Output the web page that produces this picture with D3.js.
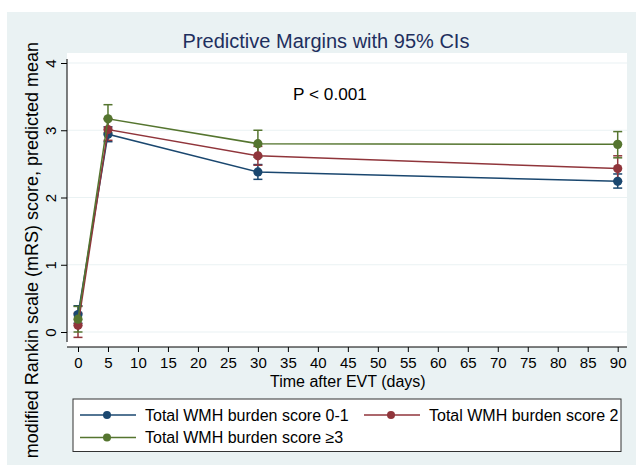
<!DOCTYPE html>
<html>
<head>
<meta charset="utf-8">
<script src="https://cdn.jsdelivr.net/npm/d3@7"></script>
<style>
  html, body { margin: 0; padding: 0; background: #ffffff; }
  svg { display: block; font-family: "Liberation Sans", Arial, Helvetica, sans-serif; }
</style>
</head>
<body>
<svg id="chart" width="636" height="465"></svg>
<script>
// Follow-up days after EVT
const days = [0, 5, 30, 90];

// Predicted mean mRS score per WMH burden group
const seriesNames = [
  "Total WMH burden score 0-1",
  "Total WMH burden score 2",
  "Total WMH burden score \u22653"
];
const meanLow  = [0.26, 2.94, 2.38, 2.24];
const meanMid  = [0.10, 3.01, 2.62, 2.43];
const meanHigh = [0.19, 3.17, 2.80, 2.79];

// 95% confidence limits
const lowerLow  = [0.13, 2.83, 2.27, 2.14];
const upperLow  = [0.39, 3.05, 2.49, 2.35];
const lowerMid  = [-0.08, 2.85, 2.48, 2.24];
const upperMid  = [0.28, 3.17, 2.76, 2.62];
const lowerHigh = [0.00, 2.96, 2.60, 2.59];
const upperHigh = [0.38, 3.38, 3.00, 2.98];

const xTicks = d3.range(0, 91, 5);
const yTicks = [0, 1, 2, 3, 4];

const colors = ["#1a476f", "#90353b", "#55752f"];

const series = [
  { name: seriesNames[0], mean: meanLow,  lo: lowerLow,  hi: upperLow,  color: colors[0] },
  { name: seriesNames[1], mean: meanMid,  lo: lowerMid,  hi: upperMid,  color: colors[1] },
  { name: seriesNames[2], mean: meanHigh, lo: lowerHigh, hi: upperHigh, color: colors[2] }
];

const svg = d3.select("#chart");

// Outer graph region
svg.append("rect")
  .attr("x", 7).attr("y", 12).attr("width", 629).attr("height", 453)
  .attr("fill", "#eaf2f3");

const x = d3.scaleLinear().domain([0, 90]).range([78, 617.7]);
const y = d3.scaleLinear().domain([0, 4]).range([332, 63]);

// Plot region
svg.append("rect")
  .attr("x", 67).attr("y", 53).attr("width", 560).attr("height", 294)
  .attr("fill", "#ffffff");

// Horizontal grid
svg.append("g")
  .selectAll("line")
  .data(yTicks)
  .join("line")
  .attr("x1", 67).attr("x2", 627)
  .attr("y1", d => y(d)).attr("y2", d => y(d))
  .attr("stroke", "#eaf2f3").attr("stroke-width", 1.2);

// Y axis
const yAxis = svg.append("g")
  .attr("transform", "translate(67,0)")
  .call(d3.axisLeft(y).tickValues(yTicks).tickSize(6).tickPadding(4).tickFormat(d3.format("d")));
yAxis.select(".domain").attr("d", `M0,${y(0) + 10}V${y(4) - 4}`).attr("stroke", "#000");
yAxis.selectAll(".tick line").attr("stroke", "#000");
yAxis.selectAll(".tick text")
  .attr("font-size", 15).attr("fill", "#000")
  .attr("text-anchor", "middle")
  .attr("x", 0).attr("dy", 0)
  .attr("transform", "translate(-17,0) rotate(-90)")
  .attr("dominant-baseline", "central");

// X axis
const xAxis = svg.append("g")
  .attr("transform", "translate(0,347)")
  .call(d3.axisBottom(x).tickValues(xTicks).tickSize(5).tickPadding(5).tickFormat(d3.format("d")));
xAxis.select(".domain").attr("d", `M67,0H627`).attr("stroke", "#000");
xAxis.selectAll(".tick line").attr("stroke", "#000");
xAxis.selectAll(".tick text").attr("font-size", 15).attr("fill", "#000");

// Axis titles
svg.append("text")
  .attr("x", x(45)).attr("y", 387)
  .attr("text-anchor", "middle").attr("font-size", 16).attr("fill", "#000")
  .text("Time after EVT (days)");

svg.append("text")
  .attr("transform", "translate(37.5,42) rotate(-90)")
  .attr("text-anchor", "end").attr("font-size", 18).attr("fill", "#000")
  .text("modified Rankin scale (mRS) score, predicted mean");

// Title
svg.append("text")
  .attr("x", 326).attr("y", 48)
  .attr("text-anchor", "middle").attr("font-size", 20).attr("fill", "#1e2f5e")
  .text("Predictive Margins with 95% CIs");

// Annotation
svg.append("text")
  .attr("x", 330).attr("y", 100)
  .attr("text-anchor", "middle").attr("font-size", 17.2).attr("fill", "#000")
  .text("P < 0.001");

const capHalf = 4.5;

// Confidence intervals
series.forEach(s => {
  const g = svg.append("g").attr("stroke", s.color).attr("stroke-width", 1.5).attr("fill", "none");
  days.forEach((d, i) => {
    const cx = x(d);
    g.append("line").attr("x1", cx).attr("x2", cx).attr("y1", y(s.lo[i])).attr("y2", y(s.hi[i]));
    g.append("line").attr("x1", cx - capHalf).attr("x2", cx + capHalf).attr("y1", y(s.lo[i])).attr("y2", y(s.lo[i]));
    g.append("line").attr("x1", cx - capHalf).attr("x2", cx + capHalf).attr("y1", y(s.hi[i])).attr("y2", y(s.hi[i]));
  });
});

// Connected lines and markers
const line = d3.line().x((d, i) => x(days[i])).y(d => y(d));
series.forEach(s => {
  svg.append("path")
    .attr("d", line(s.mean))
    .attr("fill", "none").attr("stroke", s.color).attr("stroke-width", 1.5);
  svg.append("g").selectAll("circle")
    .data(s.mean)
    .join("circle")
    .attr("cx", (d, i) => x(days[i])).attr("cy", d => y(d))
    .attr("r", 4.6).attr("fill", s.color);
});

// Legend
const legend = svg.append("g");
legend.append("rect")
  .attr("x", 73).attr("y", 399).attr("width", 548).attr("height", 52.5)
  .attr("fill", "#ffffff").attr("stroke", "#333").attr("stroke-width", 1);

const legendPos = [
  { lx: 80, ty: 415 },
  { lx: 364, ty: 415 },
  { lx: 80, ty: 437.5 }
];
series.forEach((s, i) => {
  const p = legendPos[i];
  const item = legend.append("g");
  item.append("line")
    .attr("x1", p.lx).attr("x2", p.lx + 56).attr("y1", p.ty).attr("y2", p.ty)
    .attr("stroke", s.color).attr("stroke-width", 1.5);
  item.append("circle")
    .attr("cx", p.lx + 27).attr("cy", p.ty).attr("r", 4).attr("fill", s.color);
  item.append("text")
    .attr("x", p.lx + 65).attr("y", p.ty)
    .attr("dominant-baseline", "central")
    .attr("font-size", 16).attr("fill", "#000")
    .text(s.name);
});
</script>
</body>
</html>
